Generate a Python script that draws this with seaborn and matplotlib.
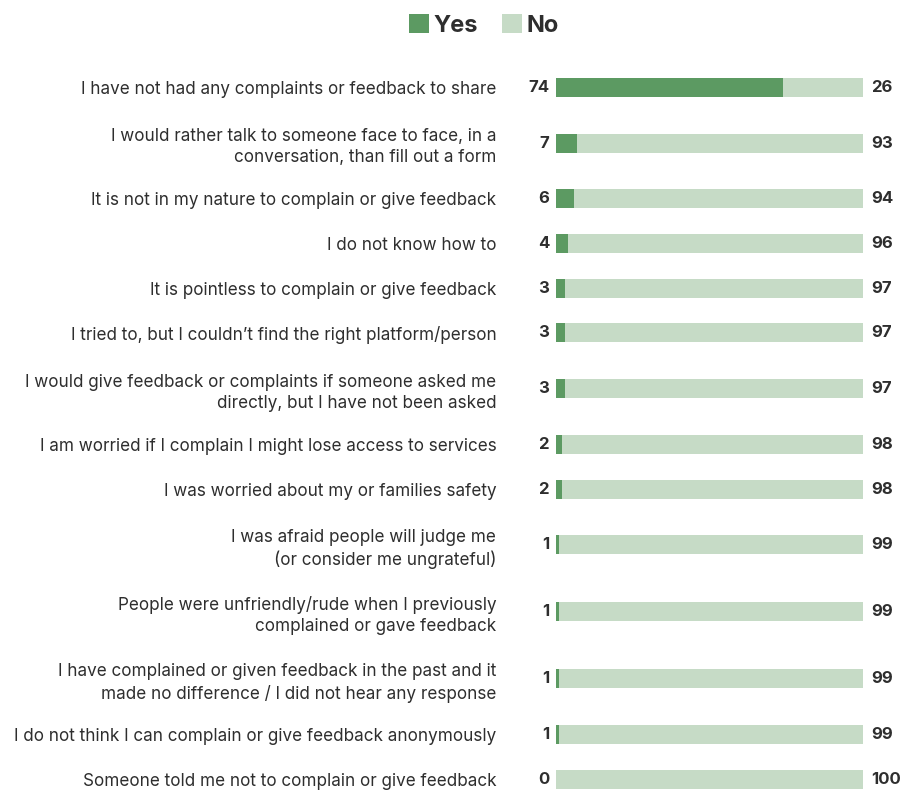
import matplotlib
matplotlib.use("Agg")
import matplotlib.pyplot as plt
from matplotlib.patches import Patch
import numpy as np
import pandas as pd
import seaborn as sns

# Survey answers: reasons for not giving feedback or complaining (%)
reasons = [
    "I have not had any complaints or feedback to share",
    "I would rather talk to someone face to face, in a\nconversation, than fill out a form",
    "It is not in my nature to complain or give feedback",
    "I do not know how to",
    "It is pointless to complain or give feedback",
    "I tried to, but I couldn\u2019t find the right platform/person",
    "I would give feedback or complaints if someone asked me\ndirectly, but I have not been asked",
    "I am worried if I complain I might lose access to services",
    "I was worried about my or families safety",
    "I was afraid people will judge me\n(or consider me ungrateful)",
    "People were unfriendly/rude when I previously\ncomplained or gave feedback",
    "I have complained or given feedback in the past and it\nmade no difference / I did not hear any response",
    "I do not think I can complain or give feedback anonymously",
    "Someone told me not to complain or give feedback",
]
yes_values = [74, 7, 6, 4, 3, 3, 3, 2, 2, 1, 1, 1, 1, 0]
no_values = [26, 93, 94, 96, 97, 97, 97, 98, 98, 99, 99, 99, 99, 100]
series_names = ["Yes", "No"]

YES_COLOR = "#5c9a62"
NO_COLOR = "#c6dbc6"
TEXT_COLOR = "#2e2e2e"

sns.set_theme(style="white")
plt.rcParams["font.family"] = ["Inter", "DejaVu Sans"]

# Row spacing grows with the number of lines in each label
line_counts = np.array([r.count("\n") + 1 for r in reasons])
row_heights = np.where(line_counts > 1, 1.5, 1.0)
centers = np.cumsum(row_heights) - row_heights / 2 - row_heights[0] / 2

df = pd.DataFrame({
    "reason": reasons,
    "pos": centers,
    "yes": yes_values,
    "no": no_values,
})
df["total"] = df["yes"] + df["no"]

fig = plt.figure(figsize=(9.03, 7.9), dpi=100)
ax = fig.add_axes([0.6157, 0.0, 0.34, 0.9177])

bar_w = 0.425
sns.barplot(data=df, x="total", y="pos", orient="h", native_scale=True,
            color=NO_COLOR, saturation=1, width=bar_w, ax=ax, errorbar=None,
            edgecolor="none")
sns.barplot(data=df, x="yes", y="pos", orient="h", native_scale=True,
            color=YES_COLOR, saturation=1, width=bar_w, ax=ax, errorbar=None,
            edgecolor="none")

ax.set_xlim(0, 100)
ax.set_ylim(centers[-1] + 0.24, -0.5)
ax.set_xlabel("")
ax.set_ylabel("")
ax.set_xticks([])
ax.set_yticks(centers)
ax.set_yticklabels(reasons, fontsize=12.3, color=TEXT_COLOR,
                   ha="right", linespacing=1.3)
ax.tick_params(axis="y", length=0, pad=43)
for s in ax.spines.values():
    s.set_visible(False)

for y, yv, nv in zip(df["pos"], df["yes"], df["no"]):
    ax.annotate(f"{yv}", xy=(0, y), xytext=(-5, 0), textcoords="offset points",
                ha="right", va="center", fontsize=12, fontweight="bold",
                color=TEXT_COLOR)
    ax.annotate(f"{nv}", xy=(100, y), xytext=(6, 0), textcoords="offset points",
                ha="left", va="center", fontsize=12, fontweight="bold",
                color=TEXT_COLOR)

handles = [Patch(facecolor=YES_COLOR, edgecolor="none"),
           Patch(facecolor=NO_COLOR, edgecolor="none")]
fig.legend(handles, series_names, loc="center", bbox_to_anchor=(0.536, 0.968),
           ncol=2, frameon=False, prop={"weight": "bold", "size": 17},
           handlelength=0.85, handleheight=0.85, handletextpad=0.2,
           columnspacing=1.0, labelcolor=TEXT_COLOR)

fig.savefig("out.png", dpi=100)
